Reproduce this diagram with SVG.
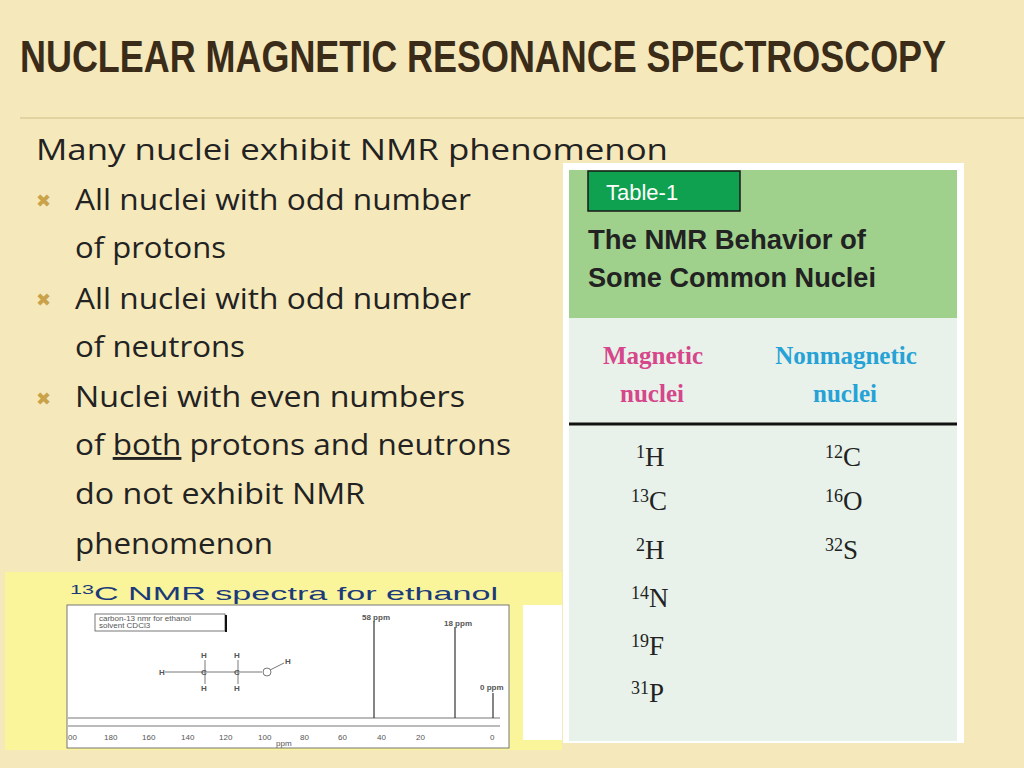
<svg xmlns="http://www.w3.org/2000/svg" width="1024" height="768" viewBox="0 0 1024 768">
<style>
.t{font-family:"Liberation Sans",Arial,sans-serif}
.b{font-family:"Open Sans","Liberation Sans",Arial,sans-serif;font-size:29px;fill:#222}
.s{font-family:"Liberation Serif","DejaVu Serif",serif;font-size:27px;fill:#222}
.sup{font-size:18px}
.ax{font-family:"Liberation Sans",Arial,sans-serif;font-size:8px;fill:#555}
</style>
<rect width="1024" height="768" fill="#f7ecc2"/>
<rect x="0" y="0" width="1024" height="768" fill="#f3e4b0" opacity="0.4"/>
<text class="t" x="20" y="72" font-size="44" font-weight="bold" fill="#3a2c18" textLength="926" lengthAdjust="spacingAndGlyphs">NUCLEAR MAGNETIC RESONANCE SPECTROSCOPY</text>
<line x1="20" y1="118" x2="1024" y2="118" stroke="#e3d3a0" stroke-width="2"/>
<text class="b" x="36" y="160" textLength="632" lengthAdjust="spacingAndGlyphs">Many nuclei exhibit NMR phenomenon</text>
<g fill="#c9a24a" font-family="DejaVu Sans,sans-serif" font-size="18"><text x="36" y="207">✖</text><text x="36" y="306">✖</text><text x="36" y="405">✖</text></g>
<text class="b" x="75" y="210" textLength="396" lengthAdjust="spacingAndGlyphs">All nuclei with odd number</text>
<text class="b" x="75" y="258" textLength="151" lengthAdjust="spacingAndGlyphs">of protons</text>
<text class="b" x="75" y="309" textLength="396" lengthAdjust="spacingAndGlyphs">All nuclei with odd number</text>
<text class="b" x="75" y="357" textLength="170" lengthAdjust="spacingAndGlyphs">of neutrons</text>
<text class="b" x="75" y="407" textLength="390" lengthAdjust="spacingAndGlyphs">Nuclei with even numbers</text>
<text class="b" x="75" y="455" textLength="436" lengthAdjust="spacingAndGlyphs">of <tspan text-decoration="underline">both</tspan> protons and neutrons</text>
<text class="b" x="75" y="504" textLength="290" lengthAdjust="spacingAndGlyphs">do not exhibit NMR</text>
<text class="b" x="75" y="554" textLength="198" lengthAdjust="spacingAndGlyphs">phenomenon</text>
<g id="table">
<rect x="563" y="163" width="401" height="580" fill="#ffffff"/>
<rect x="569" y="170" width="388" height="148" fill="#9fd08c"/>
<rect x="569" y="318" width="388" height="423" fill="#e8f2ea"/>
<rect x="588" y="171" width="152" height="40" fill="#0fa14f" stroke="#1a1a1a" stroke-width="1.5"/>
<text class="t" x="606" y="200" font-size="22" fill="#fff">Table-1</text>
<text class="t" x="588" y="249" font-size="27" font-weight="bold" fill="#222" textLength="278" lengthAdjust="spacingAndGlyphs">The NMR Behavior of</text>
<text class="t" x="588" y="287" font-size="27" font-weight="bold" fill="#222" textLength="288" lengthAdjust="spacingAndGlyphs">Some Common Nuclei</text>
<text x="653" y="364" text-anchor="middle" font-family="Liberation Serif,serif" font-size="25" font-weight="bold" fill="#d6468a">Magnetic</text>
<text x="652" y="402" text-anchor="middle" font-family="Liberation Serif,serif" font-size="25" font-weight="bold" fill="#d6468a">nuclei</text>
<text x="846" y="364" text-anchor="middle" font-family="Liberation Serif,serif" font-size="25" font-weight="bold" fill="#27a2d6">Nonmagnetic</text>
<text x="845" y="402" text-anchor="middle" font-family="Liberation Serif,serif" font-size="25" font-weight="bold" fill="#27a2d6">nuclei</text>
<line x1="569" y1="424" x2="957" y2="424" stroke="#111" stroke-width="3"/>
<g class="s">
<text x="636" y="466"><tspan class="sup" dy="-8">1</tspan><tspan dy="8">H</tspan></text>
<text x="631" y="510"><tspan class="sup" dy="-8">13</tspan><tspan dy="8">C</tspan></text>
<text x="636" y="559"><tspan class="sup" dy="-8">2</tspan><tspan dy="8">H</tspan></text>
<text x="631" y="607"><tspan class="sup" dy="-8">14</tspan><tspan dy="8">N</tspan></text>
<text x="631" y="655"><tspan class="sup" dy="-8">19</tspan><tspan dy="8">F</tspan></text>
<text x="631" y="702"><tspan class="sup" dy="-8">31</tspan><tspan dy="8">P</tspan></text>
<text x="825" y="466"><tspan class="sup" dy="-8">12</tspan><tspan dy="8">C</tspan></text>
<text x="825" y="510"><tspan class="sup" dy="-8">16</tspan><tspan dy="8">O</tspan></text>
<text x="825" y="559"><tspan class="sup" dy="-8">32</tspan><tspan dy="8">S</tspan></text>
</g>
</g>
<g id="spectrum">
<rect x="5" y="572" width="557" height="178" fill="#faf49a"/>
<text class="t" x="70" y="600" font-size="19" fill="#1b3a7a" textLength="428" lengthAdjust="spacingAndGlyphs"><tspan font-size="12" dy="-6">13</tspan><tspan dy="6">C NMR spectra for ethanol</tspan></text>
<rect x="67" y="605" width="442" height="143" fill="#ffffff" stroke="#777" stroke-width="1"/>
<rect x="523" y="605" width="39" height="135" fill="#ffffff"/>
<rect x="95" y="614" width="130" height="17" fill="#fff" stroke="#555" stroke-width="0.8"/>
<line x1="226" y1="615" x2="226" y2="632" stroke="#111" stroke-width="2"/>
<text class="ax" x="99" y="621" font-size="6">carbon-13 nmr for ethanol</text>
<text class="ax" x="99" y="628" font-size="6">solvent CDCl3</text>
<line x1="68" y1="718" x2="500" y2="718" stroke="#777"/>
<line x1="68" y1="726" x2="500" y2="726" stroke="#777"/>
<g stroke="#333" stroke-width="1.2">
<line x1="374" y1="621" x2="374" y2="718"/>
<line x1="455" y1="627" x2="455" y2="718"/>
<line x1="493" y1="693" x2="493" y2="718"/>
</g>
<g class="ax" font-size="6" font-weight="bold">
<text x="362" y="620">58 ppm</text><text x="444" y="626">18 ppm</text><text x="480" y="690">0 ppm</text>
</g>
<g class="ax" font-size="7">
<text x="68" y="740">00</text><text x="104" y="740">180</text><text x="142" y="740">160</text><text x="181" y="740">140</text><text x="219" y="740">120</text><text x="258" y="740">100</text><text x="300" y="740">80</text><text x="338" y="740">60</text><text x="377" y="740">40</text><text x="416" y="740">20</text><text x="490" y="740">0</text>
<text x="276" y="746">ppm</text>
</g>
<g stroke="#555" stroke-width="0.8" fill="none">
<line x1="165" y1="672" x2="240" y2="672"/>
<line x1="205" y1="660" x2="205" y2="684"/>
<line x1="238" y1="660" x2="238" y2="684"/>
<line x1="240" y1="672" x2="262" y2="672"/>
<line x1="270" y1="670" x2="284" y2="663"/>
<circle cx="267" cy="672" r="4" fill="#fff"/>
</g>
<g class="ax" font-size="8" font-weight="bold">
<text x="159" y="675">H</text><text x="201" y="658">H</text><text x="201" y="691">H</text><text x="234" y="658">H</text><text x="234" y="691">H</text><text x="201" y="675">C</text><text x="234" y="675">C</text><text x="285" y="664">H</text>
</g>
</g>
</svg>
